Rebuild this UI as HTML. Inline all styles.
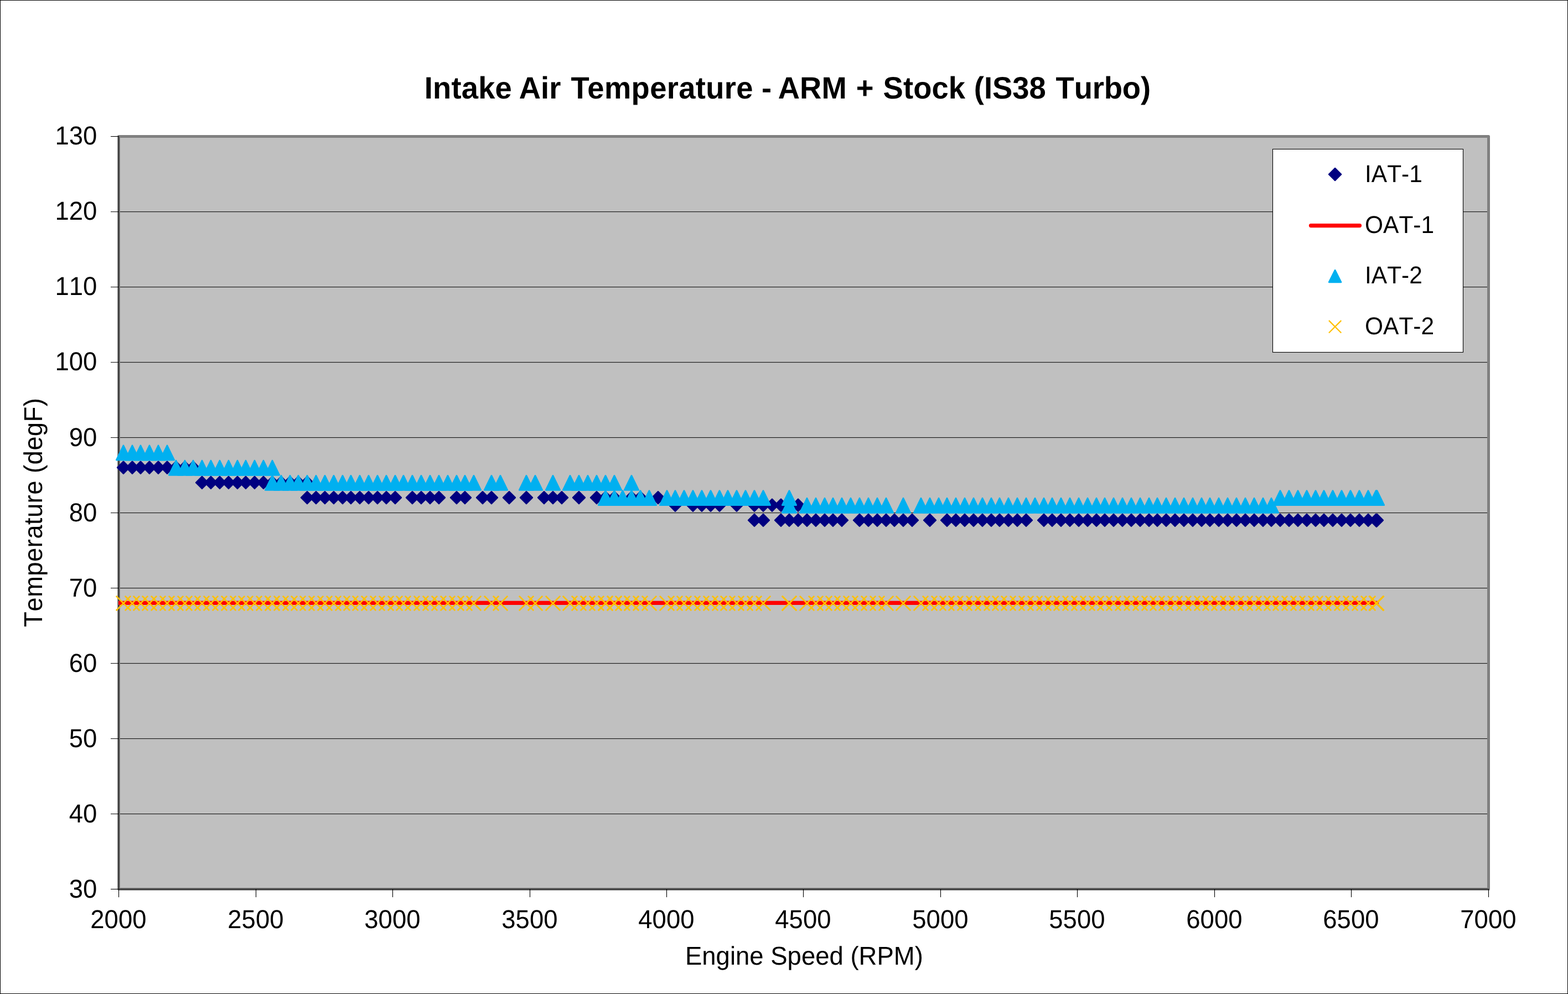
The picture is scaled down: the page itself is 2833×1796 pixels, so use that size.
<!DOCTYPE html>
<html lang="en"><head><meta charset="utf-8">
<title>Intake Air Temperature - ARM + Stock (IS38 Turbo)</title>
<style>
html,body{margin:0;padding:0;background:#fff;}
body{width:2833px;height:1796px;}
svg{display:block;}
text{font-family:"Liberation Sans",sans-serif;fill:#000;font-kerning:none;text-rendering:geometricPrecision;}
.t{font-weight:bold;font-size:54.4px;}
.a{font-size:45.5px;}
.l{font-size:42.5px;}
.d{fill:#000080;stroke:#000080;stroke-width:2.2;stroke-linejoin:round;}
.g{fill:#00b0f0;stroke:#00b0f0;stroke-width:2.8;stroke-linejoin:round;}
.x{stroke:#ffc000;stroke-width:2.625;stroke-linecap:square;fill:none;}
</style></head><body>
<svg width="2833" height="1796" viewBox="0 0 2833 1796" role="img" aria-label="Intake Air Temperature chart">
<rect x="0" y="0" width="2833" height="1796" fill="#fff"/>
<rect x="0.5" y="0.5" width="2832" height="1795" fill="none" stroke="#000" stroke-width="1"/>
<rect x="214.5" y="246.5" width="2475" height="1360" fill="#c0c0c0"/>
<g fill="#000">
<rect x="217" y="382.15" width="2470" height="1"/>
<rect x="217" y="518.15" width="2470" height="1"/>
<rect x="217" y="654.15" width="2470" height="1"/>
<rect x="217" y="790.15" width="2470" height="1"/>
<rect x="217" y="926.15" width="2470" height="1"/>
<rect x="217" y="1062.15" width="2470" height="1"/>
<rect x="217" y="1198.15" width="2470" height="1"/>
<rect x="217" y="1334.15" width="2470" height="1"/>
<rect x="217" y="1470.15" width="2470" height="1"/>
</g>
<rect x="214.5" y="246.45" width="2475" height="1359.95" fill="none" stroke="#808080" stroke-width="5" stroke-linejoin="round"/>
<g fill="#000">
<rect x="214" y="246" width="1.1" height="1375.2"/>
<rect x="200" y="1606" width="2490" height="1.1"/>
<rect x="200" y="246" width="14.5" height="1.1"/>
<rect x="200" y="382.15" width="14.5" height="1"/>
<rect x="200" y="518.15" width="14.5" height="1"/>
<rect x="200" y="654.15" width="14.5" height="1"/>
<rect x="200" y="790.15" width="14.5" height="1"/>
<rect x="200" y="926.15" width="14.5" height="1"/>
<rect x="200" y="1062.15" width="14.5" height="1"/>
<rect x="200" y="1198.15" width="14.5" height="1"/>
<rect x="200" y="1334.15" width="14.5" height="1"/>
<rect x="200" y="1470.15" width="14.5" height="1"/>
<rect x="461.95" y="1606" width="1.1" height="15.1"/>
<rect x="708.95" y="1606" width="1.1" height="15.1"/>
<rect x="956.95" y="1606" width="1.1" height="15.1"/>
<rect x="1203.95" y="1606" width="1.1" height="15.1"/>
<rect x="1450.95" y="1606" width="1.1" height="15.1"/>
<rect x="1698.95" y="1606" width="1.1" height="15.1"/>
<rect x="1945.95" y="1606" width="1.1" height="15.1"/>
<rect x="2193.95" y="1606" width="1.1" height="15.1"/>
<rect x="2440.95" y="1606" width="1.1" height="15.1"/>
<rect x="2688.95" y="1606" width="1.1" height="15.1"/>
</g>
<g class="d">
<path d="M223 833.65l11.1 11.1l-11.1 11.1l-11.1 -11.1z"/>
<path d="M239 833.65l11.1 11.1l-11.1 11.1l-11.1 -11.1z"/>
<path d="M254 833.65l11.1 11.1l-11.1 11.1l-11.1 -11.1z"/>
<path d="M270 833.65l11.1 11.1l-11.1 11.1l-11.1 -11.1z"/>
<path d="M286 833.65l11.1 11.1l-11.1 11.1l-11.1 -11.1z"/>
<path d="M302 833.65l11.1 11.1l-11.1 11.1l-11.1 -11.1z"/>
<path d="M318 833.65l11.1 11.1l-11.1 11.1l-11.1 -11.1z"/>
<path d="M334 833.65l11.1 11.1l-11.1 11.1l-11.1 -11.1z"/>
<path d="M349 833.65l11.1 11.1l-11.1 11.1l-11.1 -11.1z"/>
<path d="M365 860.85l11.1 11.1l-11.1 11.1l-11.1 -11.1z"/>
<path d="M381 860.85l11.1 11.1l-11.1 11.1l-11.1 -11.1z"/>
<path d="M397 860.85l11.1 11.1l-11.1 11.1l-11.1 -11.1z"/>
<path d="M413 860.85l11.1 11.1l-11.1 11.1l-11.1 -11.1z"/>
<path d="M429 860.85l11.1 11.1l-11.1 11.1l-11.1 -11.1z"/>
<path d="M444 860.85l11.1 11.1l-11.1 11.1l-11.1 -11.1z"/>
<path d="M460 860.85l11.1 11.1l-11.1 11.1l-11.1 -11.1z"/>
<path d="M476 860.85l11.1 11.1l-11.1 11.1l-11.1 -11.1z"/>
<path d="M492 860.85l11.1 11.1l-11.1 11.1l-11.1 -11.1z"/>
<path d="M508 860.85l11.1 11.1l-11.1 11.1l-11.1 -11.1z"/>
<path d="M524 860.85l11.1 11.1l-11.1 11.1l-11.1 -11.1z"/>
<path d="M539 860.85l11.1 11.1l-11.1 11.1l-11.1 -11.1z"/>
<path d="M555 860.85l11.1 11.1l-11.1 11.1l-11.1 -11.1z"/>
<path d="M555 888.05l11.1 11.1l-11.1 11.1l-11.1 -11.1z"/>
<path d="M571 888.05l11.1 11.1l-11.1 11.1l-11.1 -11.1z"/>
<path d="M587 888.05l11.1 11.1l-11.1 11.1l-11.1 -11.1z"/>
<path d="M603 888.05l11.1 11.1l-11.1 11.1l-11.1 -11.1z"/>
<path d="M619 888.05l11.1 11.1l-11.1 11.1l-11.1 -11.1z"/>
<path d="M634 888.05l11.1 11.1l-11.1 11.1l-11.1 -11.1z"/>
<path d="M650 888.05l11.1 11.1l-11.1 11.1l-11.1 -11.1z"/>
<path d="M666 888.05l11.1 11.1l-11.1 11.1l-11.1 -11.1z"/>
<path d="M682 888.05l11.1 11.1l-11.1 11.1l-11.1 -11.1z"/>
<path d="M698 888.05l11.1 11.1l-11.1 11.1l-11.1 -11.1z"/>
<path d="M714 888.05l11.1 11.1l-11.1 11.1l-11.1 -11.1z"/>
<path d="M745 888.05l11.1 11.1l-11.1 11.1l-11.1 -11.1z"/>
<path d="M761 888.05l11.1 11.1l-11.1 11.1l-11.1 -11.1z"/>
<path d="M777 888.05l11.1 11.1l-11.1 11.1l-11.1 -11.1z"/>
<path d="M793 888.05l11.1 11.1l-11.1 11.1l-11.1 -11.1z"/>
<path d="M825 888.05l11.1 11.1l-11.1 11.1l-11.1 -11.1z"/>
<path d="M840 888.05l11.1 11.1l-11.1 11.1l-11.1 -11.1z"/>
<path d="M872 888.05l11.1 11.1l-11.1 11.1l-11.1 -11.1z"/>
<path d="M888 888.05l11.1 11.1l-11.1 11.1l-11.1 -11.1z"/>
<path d="M920 888.05l11.1 11.1l-11.1 11.1l-11.1 -11.1z"/>
<path d="M951 888.05l11.1 11.1l-11.1 11.1l-11.1 -11.1z"/>
<path d="M983 888.05l11.1 11.1l-11.1 11.1l-11.1 -11.1z"/>
<path d="M999 888.05l11.1 11.1l-11.1 11.1l-11.1 -11.1z"/>
<path d="M1015 888.05l11.1 11.1l-11.1 11.1l-11.1 -11.1z"/>
<path d="M1046 888.05l11.1 11.1l-11.1 11.1l-11.1 -11.1z"/>
<path d="M1078 888.05l11.1 11.1l-11.1 11.1l-11.1 -11.1z"/>
<path d="M1094 888.05l11.1 11.1l-11.1 11.1l-11.1 -11.1z"/>
<path d="M1110 888.05l11.1 11.1l-11.1 11.1l-11.1 -11.1z"/>
<path d="M1141 888.05l11.1 11.1l-11.1 11.1l-11.1 -11.1z"/>
<path d="M1157 888.05l11.1 11.1l-11.1 11.1l-11.1 -11.1z"/>
<path d="M1189 888.05l11.1 11.1l-11.1 11.1l-11.1 -11.1z"/>
<path d="M1220 901.65l11.1 11.1l-11.1 11.1l-11.1 -11.1z"/>
<path d="M1252 901.65l11.1 11.1l-11.1 11.1l-11.1 -11.1z"/>
<path d="M1268 901.65l11.1 11.1l-11.1 11.1l-11.1 -11.1z"/>
<path d="M1284 901.65l11.1 11.1l-11.1 11.1l-11.1 -11.1z"/>
<path d="M1300 901.65l11.1 11.1l-11.1 11.1l-11.1 -11.1z"/>
<path d="M1331 901.65l11.1 11.1l-11.1 11.1l-11.1 -11.1z"/>
<path d="M1363 901.65l11.1 11.1l-11.1 11.1l-11.1 -11.1z"/>
<path d="M1379 901.65l11.1 11.1l-11.1 11.1l-11.1 -11.1z"/>
<path d="M1395 901.65l11.1 11.1l-11.1 11.1l-11.1 -11.1z"/>
<path d="M1411 901.65l11.1 11.1l-11.1 11.1l-11.1 -11.1z"/>
<path d="M1442 901.65l11.1 11.1l-11.1 11.1l-11.1 -11.1z"/>
<path d="M1363 928.85l11.1 11.1l-11.1 11.1l-11.1 -11.1z"/>
<path d="M1379 928.85l11.1 11.1l-11.1 11.1l-11.1 -11.1z"/>
<path d="M1411 928.85l11.1 11.1l-11.1 11.1l-11.1 -11.1z"/>
<path d="M1426 928.85l11.1 11.1l-11.1 11.1l-11.1 -11.1z"/>
<path d="M1442 928.85l11.1 11.1l-11.1 11.1l-11.1 -11.1z"/>
<path d="M1458 928.85l11.1 11.1l-11.1 11.1l-11.1 -11.1z"/>
<path d="M1474 928.85l11.1 11.1l-11.1 11.1l-11.1 -11.1z"/>
<path d="M1490 928.85l11.1 11.1l-11.1 11.1l-11.1 -11.1z"/>
<path d="M1505 928.85l11.1 11.1l-11.1 11.1l-11.1 -11.1z"/>
<path d="M1521 928.85l11.1 11.1l-11.1 11.1l-11.1 -11.1z"/>
<path d="M1553 928.85l11.1 11.1l-11.1 11.1l-11.1 -11.1z"/>
<path d="M1569 928.85l11.1 11.1l-11.1 11.1l-11.1 -11.1z"/>
<path d="M1585 928.85l11.1 11.1l-11.1 11.1l-11.1 -11.1z"/>
<path d="M1601 928.85l11.1 11.1l-11.1 11.1l-11.1 -11.1z"/>
<path d="M1616 928.85l11.1 11.1l-11.1 11.1l-11.1 -11.1z"/>
<path d="M1632 928.85l11.1 11.1l-11.1 11.1l-11.1 -11.1z"/>
<path d="M1648 928.85l11.1 11.1l-11.1 11.1l-11.1 -11.1z"/>
<path d="M1680 928.85l11.1 11.1l-11.1 11.1l-11.1 -11.1z"/>
<path d="M1711 928.85l11.1 11.1l-11.1 11.1l-11.1 -11.1z"/>
<path d="M1727 928.85l11.1 11.1l-11.1 11.1l-11.1 -11.1z"/>
<path d="M1743 928.85l11.1 11.1l-11.1 11.1l-11.1 -11.1z"/>
<path d="M1759 928.85l11.1 11.1l-11.1 11.1l-11.1 -11.1z"/>
<path d="M1775 928.85l11.1 11.1l-11.1 11.1l-11.1 -11.1z"/>
<path d="M1791 928.85l11.1 11.1l-11.1 11.1l-11.1 -11.1z"/>
<path d="M1806 928.85l11.1 11.1l-11.1 11.1l-11.1 -11.1z"/>
<path d="M1822 928.85l11.1 11.1l-11.1 11.1l-11.1 -11.1z"/>
<path d="M1838 928.85l11.1 11.1l-11.1 11.1l-11.1 -11.1z"/>
<path d="M1854 928.85l11.1 11.1l-11.1 11.1l-11.1 -11.1z"/>
<path d="M1886 928.85l11.1 11.1l-11.1 11.1l-11.1 -11.1z"/>
<path d="M1901 928.85l11.1 11.1l-11.1 11.1l-11.1 -11.1z"/>
<path d="M1917 928.85l11.1 11.1l-11.1 11.1l-11.1 -11.1z"/>
<path d="M1933 928.85l11.1 11.1l-11.1 11.1l-11.1 -11.1z"/>
<path d="M1949 928.85l11.1 11.1l-11.1 11.1l-11.1 -11.1z"/>
<path d="M1965 928.85l11.1 11.1l-11.1 11.1l-11.1 -11.1z"/>
<path d="M1981 928.85l11.1 11.1l-11.1 11.1l-11.1 -11.1z"/>
<path d="M1996 928.85l11.1 11.1l-11.1 11.1l-11.1 -11.1z"/>
<path d="M2012 928.85l11.1 11.1l-11.1 11.1l-11.1 -11.1z"/>
<path d="M2028 928.85l11.1 11.1l-11.1 11.1l-11.1 -11.1z"/>
<path d="M2044 928.85l11.1 11.1l-11.1 11.1l-11.1 -11.1z"/>
<path d="M2060 928.85l11.1 11.1l-11.1 11.1l-11.1 -11.1z"/>
<path d="M2076 928.85l11.1 11.1l-11.1 11.1l-11.1 -11.1z"/>
<path d="M2091 928.85l11.1 11.1l-11.1 11.1l-11.1 -11.1z"/>
<path d="M2107 928.85l11.1 11.1l-11.1 11.1l-11.1 -11.1z"/>
<path d="M2123 928.85l11.1 11.1l-11.1 11.1l-11.1 -11.1z"/>
<path d="M2139 928.85l11.1 11.1l-11.1 11.1l-11.1 -11.1z"/>
<path d="M2155 928.85l11.1 11.1l-11.1 11.1l-11.1 -11.1z"/>
<path d="M2171 928.85l11.1 11.1l-11.1 11.1l-11.1 -11.1z"/>
<path d="M2186 928.85l11.1 11.1l-11.1 11.1l-11.1 -11.1z"/>
<path d="M2202 928.85l11.1 11.1l-11.1 11.1l-11.1 -11.1z"/>
<path d="M2218 928.85l11.1 11.1l-11.1 11.1l-11.1 -11.1z"/>
<path d="M2234 928.85l11.1 11.1l-11.1 11.1l-11.1 -11.1z"/>
<path d="M2250 928.85l11.1 11.1l-11.1 11.1l-11.1 -11.1z"/>
<path d="M2266 928.85l11.1 11.1l-11.1 11.1l-11.1 -11.1z"/>
<path d="M2282 928.85l11.1 11.1l-11.1 11.1l-11.1 -11.1z"/>
<path d="M2297 928.85l11.1 11.1l-11.1 11.1l-11.1 -11.1z"/>
<path d="M2313 928.85l11.1 11.1l-11.1 11.1l-11.1 -11.1z"/>
<path d="M2329 928.85l11.1 11.1l-11.1 11.1l-11.1 -11.1z"/>
<path d="M2345 928.85l11.1 11.1l-11.1 11.1l-11.1 -11.1z"/>
<path d="M2361 928.85l11.1 11.1l-11.1 11.1l-11.1 -11.1z"/>
<path d="M2377 928.85l11.1 11.1l-11.1 11.1l-11.1 -11.1z"/>
<path d="M2392 928.85l11.1 11.1l-11.1 11.1l-11.1 -11.1z"/>
<path d="M2408 928.85l11.1 11.1l-11.1 11.1l-11.1 -11.1z"/>
<path d="M2424 928.85l11.1 11.1l-11.1 11.1l-11.1 -11.1z"/>
<path d="M2440 928.85l11.1 11.1l-11.1 11.1l-11.1 -11.1z"/>
<path d="M2456 928.85l11.1 11.1l-11.1 11.1l-11.1 -11.1z"/>
<path d="M2472 928.85l11.1 11.1l-11.1 11.1l-11.1 -11.1z"/>
<path d="M2487 928.85l11.1 11.1l-11.1 11.1l-11.1 -11.1z"/>
<path d="M2488 928.85l11.1 11.1l-11.1 11.1l-11.1 -11.1z"/>
<path d="M2486 928.85l11.1 11.1l-11.1 11.1l-11.1 -11.1z"/>
<path d="M2487 929.86l11.1 11.1l-11.1 11.1l-11.1 -11.1z"/>
</g>
<path d="M214 1085.85H2487.45a3.55 3.55 0 0 1 0 7.1H214z" fill="#ff0000"/>
<g class="g">
<path d="M223 805.05l12.65 26h-25.3z"/>
<path d="M239 805.05l12.65 26h-25.3z"/>
<path d="M254 805.05l12.65 26h-25.3z"/>
<path d="M270 805.05l12.65 26h-25.3z"/>
<path d="M286 805.05l12.65 26h-25.3z"/>
<path d="M302 805.05l12.65 26h-25.3z"/>
<path d="M318 832.25l12.65 26h-25.3z"/>
<path d="M334 832.25l12.65 26h-25.3z"/>
<path d="M349 832.25l12.65 26h-25.3z"/>
<path d="M365 832.25l12.65 26h-25.3z"/>
<path d="M381 832.25l12.65 26h-25.3z"/>
<path d="M397 832.25l12.65 26h-25.3z"/>
<path d="M413 832.25l12.65 26h-25.3z"/>
<path d="M429 832.25l12.65 26h-25.3z"/>
<path d="M444 832.25l12.65 26h-25.3z"/>
<path d="M460 832.25l12.65 26h-25.3z"/>
<path d="M476 832.25l12.65 26h-25.3z"/>
<path d="M492 832.25l12.65 26h-25.3z"/>
<path d="M492 859.45l12.65 26h-25.3z"/>
<path d="M508 859.45l12.65 26h-25.3z"/>
<path d="M524 859.45l12.65 26h-25.3z"/>
<path d="M539 859.45l12.65 26h-25.3z"/>
<path d="M555 859.45l12.65 26h-25.3z"/>
<path d="M571 859.45l12.65 26h-25.3z"/>
<path d="M587 859.45l12.65 26h-25.3z"/>
<path d="M603 859.45l12.65 26h-25.3z"/>
<path d="M619 859.45l12.65 26h-25.3z"/>
<path d="M634 859.45l12.65 26h-25.3z"/>
<path d="M650 859.45l12.65 26h-25.3z"/>
<path d="M666 859.45l12.65 26h-25.3z"/>
<path d="M682 859.45l12.65 26h-25.3z"/>
<path d="M698 859.45l12.65 26h-25.3z"/>
<path d="M714 859.45l12.65 26h-25.3z"/>
<path d="M729 859.45l12.65 26h-25.3z"/>
<path d="M745 859.45l12.65 26h-25.3z"/>
<path d="M761 859.45l12.65 26h-25.3z"/>
<path d="M777 859.45l12.65 26h-25.3z"/>
<path d="M793 859.45l12.65 26h-25.3z"/>
<path d="M809 859.45l12.65 26h-25.3z"/>
<path d="M825 859.45l12.65 26h-25.3z"/>
<path d="M840 859.45l12.65 26h-25.3z"/>
<path d="M856 859.45l12.65 26h-25.3z"/>
<path d="M888 859.45l12.65 26h-25.3z"/>
<path d="M904 859.45l12.65 26h-25.3z"/>
<path d="M951 859.45l12.65 26h-25.3z"/>
<path d="M967 859.45l12.65 26h-25.3z"/>
<path d="M999 859.45l12.65 26h-25.3z"/>
<path d="M1030 859.45l12.65 26h-25.3z"/>
<path d="M1046 859.45l12.65 26h-25.3z"/>
<path d="M1062 859.45l12.65 26h-25.3z"/>
<path d="M1078 859.45l12.65 26h-25.3z"/>
<path d="M1094 859.45l12.65 26h-25.3z"/>
<path d="M1110 859.45l12.65 26h-25.3z"/>
<path d="M1141 859.45l12.65 26h-25.3z"/>
<path d="M1094 886.65l12.65 26h-25.3z"/>
<path d="M1110 886.65l12.65 26h-25.3z"/>
<path d="M1125 886.65l12.65 26h-25.3z"/>
<path d="M1141 886.65l12.65 26h-25.3z"/>
<path d="M1157 886.65l12.65 26h-25.3z"/>
<path d="M1173 886.65l12.65 26h-25.3z"/>
<path d="M1205 886.65l12.65 26h-25.3z"/>
<path d="M1220 886.65l12.65 26h-25.3z"/>
<path d="M1236 886.65l12.65 26h-25.3z"/>
<path d="M1252 886.65l12.65 26h-25.3z"/>
<path d="M1268 886.65l12.65 26h-25.3z"/>
<path d="M1284 886.65l12.65 26h-25.3z"/>
<path d="M1300 886.65l12.65 26h-25.3z"/>
<path d="M1315 886.65l12.65 26h-25.3z"/>
<path d="M1331 886.65l12.65 26h-25.3z"/>
<path d="M1347 886.65l12.65 26h-25.3z"/>
<path d="M1363 886.65l12.65 26h-25.3z"/>
<path d="M1379 886.65l12.65 26h-25.3z"/>
<path d="M1426 886.65l12.65 26h-25.3z"/>
<path d="M1426 900.25l12.65 26h-25.3z"/>
<path d="M1458 900.25l12.65 26h-25.3z"/>
<path d="M1474 900.25l12.65 26h-25.3z"/>
<path d="M1490 900.25l12.65 26h-25.3z"/>
<path d="M1505 900.25l12.65 26h-25.3z"/>
<path d="M1521 900.25l12.65 26h-25.3z"/>
<path d="M1537 900.25l12.65 26h-25.3z"/>
<path d="M1553 900.25l12.65 26h-25.3z"/>
<path d="M1569 900.25l12.65 26h-25.3z"/>
<path d="M1585 900.25l12.65 26h-25.3z"/>
<path d="M1601 900.25l12.65 26h-25.3z"/>
<path d="M1632 900.25l12.65 26h-25.3z"/>
<path d="M1664 900.25l12.65 26h-25.3z"/>
<path d="M1680 900.25l12.65 26h-25.3z"/>
<path d="M1696 900.25l12.65 26h-25.3z"/>
<path d="M1711 900.25l12.65 26h-25.3z"/>
<path d="M1727 900.25l12.65 26h-25.3z"/>
<path d="M1743 900.25l12.65 26h-25.3z"/>
<path d="M1759 900.25l12.65 26h-25.3z"/>
<path d="M1775 900.25l12.65 26h-25.3z"/>
<path d="M1791 900.25l12.65 26h-25.3z"/>
<path d="M1806 900.25l12.65 26h-25.3z"/>
<path d="M1822 900.25l12.65 26h-25.3z"/>
<path d="M1838 900.25l12.65 26h-25.3z"/>
<path d="M1854 900.25l12.65 26h-25.3z"/>
<path d="M1870 900.25l12.65 26h-25.3z"/>
<path d="M1886 900.25l12.65 26h-25.3z"/>
<path d="M1901 900.25l12.65 26h-25.3z"/>
<path d="M1917 900.25l12.65 26h-25.3z"/>
<path d="M1933 900.25l12.65 26h-25.3z"/>
<path d="M1949 900.25l12.65 26h-25.3z"/>
<path d="M1965 900.25l12.65 26h-25.3z"/>
<path d="M1981 900.25l12.65 26h-25.3z"/>
<path d="M1996 900.25l12.65 26h-25.3z"/>
<path d="M2012 900.25l12.65 26h-25.3z"/>
<path d="M2028 900.25l12.65 26h-25.3z"/>
<path d="M2044 900.25l12.65 26h-25.3z"/>
<path d="M2060 900.25l12.65 26h-25.3z"/>
<path d="M2076 900.25l12.65 26h-25.3z"/>
<path d="M2091 900.25l12.65 26h-25.3z"/>
<path d="M2107 900.25l12.65 26h-25.3z"/>
<path d="M2123 900.25l12.65 26h-25.3z"/>
<path d="M2139 900.25l12.65 26h-25.3z"/>
<path d="M2155 900.25l12.65 26h-25.3z"/>
<path d="M2171 900.25l12.65 26h-25.3z"/>
<path d="M2186 900.25l12.65 26h-25.3z"/>
<path d="M2202 900.25l12.65 26h-25.3z"/>
<path d="M2218 900.25l12.65 26h-25.3z"/>
<path d="M2234 900.25l12.65 26h-25.3z"/>
<path d="M2250 900.25l12.65 26h-25.3z"/>
<path d="M2266 900.25l12.65 26h-25.3z"/>
<path d="M2282 900.25l12.65 26h-25.3z"/>
<path d="M2297 900.25l12.65 26h-25.3z"/>
<path d="M2313 886.65l12.65 26h-25.3z"/>
<path d="M2329 886.65l12.65 26h-25.3z"/>
<path d="M2345 886.65l12.65 26h-25.3z"/>
<path d="M2361 886.65l12.65 26h-25.3z"/>
<path d="M2377 886.65l12.65 26h-25.3z"/>
<path d="M2392 886.65l12.65 26h-25.3z"/>
<path d="M2408 886.65l12.65 26h-25.3z"/>
<path d="M2424 886.65l12.65 26h-25.3z"/>
<path d="M2440 886.65l12.65 26h-25.3z"/>
<path d="M2456 886.65l12.65 26h-25.3z"/>
<path d="M2472 886.65l12.65 26h-25.3z"/>
<path d="M2487 886.65l12.65 26h-25.3z"/>
<path d="M2488 886.65l12.65 26h-25.3z"/>
<path d="M2486 886.65l12.65 26h-25.3z"/>
</g>
<g class="x">
<path d="M210.75 1077.8l24.5 24.5M210.75 1102.3l24.5 -24.5"/>
<path d="M226.75 1077.8l24.5 24.5M226.75 1102.3l24.5 -24.5"/>
<path d="M241.75 1077.8l24.5 24.5M241.75 1102.3l24.5 -24.5"/>
<path d="M257.75 1077.8l24.5 24.5M257.75 1102.3l24.5 -24.5"/>
<path d="M273.75 1077.8l24.5 24.5M273.75 1102.3l24.5 -24.5"/>
<path d="M289.75 1077.8l24.5 24.5M289.75 1102.3l24.5 -24.5"/>
<path d="M305.75 1077.8l24.5 24.5M305.75 1102.3l24.5 -24.5"/>
<path d="M321.75 1077.8l24.5 24.5M321.75 1102.3l24.5 -24.5"/>
<path d="M336.75 1077.8l24.5 24.5M336.75 1102.3l24.5 -24.5"/>
<path d="M352.75 1077.8l24.5 24.5M352.75 1102.3l24.5 -24.5"/>
<path d="M368.75 1077.8l24.5 24.5M368.75 1102.3l24.5 -24.5"/>
<path d="M384.75 1077.8l24.5 24.5M384.75 1102.3l24.5 -24.5"/>
<path d="M400.75 1077.8l24.5 24.5M400.75 1102.3l24.5 -24.5"/>
<path d="M416.75 1077.8l24.5 24.5M416.75 1102.3l24.5 -24.5"/>
<path d="M431.75 1077.8l24.5 24.5M431.75 1102.3l24.5 -24.5"/>
<path d="M447.75 1077.8l24.5 24.5M447.75 1102.3l24.5 -24.5"/>
<path d="M463.75 1077.8l24.5 24.5M463.75 1102.3l24.5 -24.5"/>
<path d="M479.75 1077.8l24.5 24.5M479.75 1102.3l24.5 -24.5"/>
<path d="M479.75 1077.8l24.5 24.5M479.75 1102.3l24.5 -24.5"/>
<path d="M495.75 1077.8l24.5 24.5M495.75 1102.3l24.5 -24.5"/>
<path d="M511.75 1077.8l24.5 24.5M511.75 1102.3l24.5 -24.5"/>
<path d="M526.75 1077.8l24.5 24.5M526.75 1102.3l24.5 -24.5"/>
<path d="M542.75 1077.8l24.5 24.5M542.75 1102.3l24.5 -24.5"/>
<path d="M558.75 1077.8l24.5 24.5M558.75 1102.3l24.5 -24.5"/>
<path d="M574.75 1077.8l24.5 24.5M574.75 1102.3l24.5 -24.5"/>
<path d="M590.75 1077.8l24.5 24.5M590.75 1102.3l24.5 -24.5"/>
<path d="M606.75 1077.8l24.5 24.5M606.75 1102.3l24.5 -24.5"/>
<path d="M621.75 1077.8l24.5 24.5M621.75 1102.3l24.5 -24.5"/>
<path d="M637.75 1077.8l24.5 24.5M637.75 1102.3l24.5 -24.5"/>
<path d="M653.75 1077.8l24.5 24.5M653.75 1102.3l24.5 -24.5"/>
<path d="M669.75 1077.8l24.5 24.5M669.75 1102.3l24.5 -24.5"/>
<path d="M685.75 1077.8l24.5 24.5M685.75 1102.3l24.5 -24.5"/>
<path d="M701.75 1077.8l24.5 24.5M701.75 1102.3l24.5 -24.5"/>
<path d="M716.75 1077.8l24.5 24.5M716.75 1102.3l24.5 -24.5"/>
<path d="M732.75 1077.8l24.5 24.5M732.75 1102.3l24.5 -24.5"/>
<path d="M748.75 1077.8l24.5 24.5M748.75 1102.3l24.5 -24.5"/>
<path d="M764.75 1077.8l24.5 24.5M764.75 1102.3l24.5 -24.5"/>
<path d="M780.75 1077.8l24.5 24.5M780.75 1102.3l24.5 -24.5"/>
<path d="M796.75 1077.8l24.5 24.5M796.75 1102.3l24.5 -24.5"/>
<path d="M812.75 1077.8l24.5 24.5M812.75 1102.3l24.5 -24.5"/>
<path d="M827.75 1077.8l24.5 24.5M827.75 1102.3l24.5 -24.5"/>
<path d="M843.75 1077.8l24.5 24.5M843.75 1102.3l24.5 -24.5"/>
<path d="M875.75 1077.8l24.5 24.5M875.75 1102.3l24.5 -24.5"/>
<path d="M891.75 1077.8l24.5 24.5M891.75 1102.3l24.5 -24.5"/>
<path d="M938.75 1077.8l24.5 24.5M938.75 1102.3l24.5 -24.5"/>
<path d="M954.75 1077.8l24.5 24.5M954.75 1102.3l24.5 -24.5"/>
<path d="M986.75 1077.8l24.5 24.5M986.75 1102.3l24.5 -24.5"/>
<path d="M1017.75 1077.8l24.5 24.5M1017.75 1102.3l24.5 -24.5"/>
<path d="M1033.75 1077.8l24.5 24.5M1033.75 1102.3l24.5 -24.5"/>
<path d="M1049.75 1077.8l24.5 24.5M1049.75 1102.3l24.5 -24.5"/>
<path d="M1065.75 1077.8l24.5 24.5M1065.75 1102.3l24.5 -24.5"/>
<path d="M1081.75 1077.8l24.5 24.5M1081.75 1102.3l24.5 -24.5"/>
<path d="M1097.75 1077.8l24.5 24.5M1097.75 1102.3l24.5 -24.5"/>
<path d="M1128.75 1077.8l24.5 24.5M1128.75 1102.3l24.5 -24.5"/>
<path d="M1081.75 1077.8l24.5 24.5M1081.75 1102.3l24.5 -24.5"/>
<path d="M1097.75 1077.8l24.5 24.5M1097.75 1102.3l24.5 -24.5"/>
<path d="M1112.75 1077.8l24.5 24.5M1112.75 1102.3l24.5 -24.5"/>
<path d="M1128.75 1077.8l24.5 24.5M1128.75 1102.3l24.5 -24.5"/>
<path d="M1144.75 1077.8l24.5 24.5M1144.75 1102.3l24.5 -24.5"/>
<path d="M1160.75 1077.8l24.5 24.5M1160.75 1102.3l24.5 -24.5"/>
<path d="M1192.75 1077.8l24.5 24.5M1192.75 1102.3l24.5 -24.5"/>
<path d="M1207.75 1077.8l24.5 24.5M1207.75 1102.3l24.5 -24.5"/>
<path d="M1223.75 1077.8l24.5 24.5M1223.75 1102.3l24.5 -24.5"/>
<path d="M1239.75 1077.8l24.5 24.5M1239.75 1102.3l24.5 -24.5"/>
<path d="M1255.75 1077.8l24.5 24.5M1255.75 1102.3l24.5 -24.5"/>
<path d="M1271.75 1077.8l24.5 24.5M1271.75 1102.3l24.5 -24.5"/>
<path d="M1287.75 1077.8l24.5 24.5M1287.75 1102.3l24.5 -24.5"/>
<path d="M1302.75 1077.8l24.5 24.5M1302.75 1102.3l24.5 -24.5"/>
<path d="M1318.75 1077.8l24.5 24.5M1318.75 1102.3l24.5 -24.5"/>
<path d="M1334.75 1077.8l24.5 24.5M1334.75 1102.3l24.5 -24.5"/>
<path d="M1350.75 1077.8l24.5 24.5M1350.75 1102.3l24.5 -24.5"/>
<path d="M1366.75 1077.8l24.5 24.5M1366.75 1102.3l24.5 -24.5"/>
<path d="M1413.75 1077.8l24.5 24.5M1413.75 1102.3l24.5 -24.5"/>
<path d="M1413.75 1077.8l24.5 24.5M1413.75 1102.3l24.5 -24.5"/>
<path d="M1445.75 1077.8l24.5 24.5M1445.75 1102.3l24.5 -24.5"/>
<path d="M1461.75 1077.8l24.5 24.5M1461.75 1102.3l24.5 -24.5"/>
<path d="M1477.75 1077.8l24.5 24.5M1477.75 1102.3l24.5 -24.5"/>
<path d="M1492.75 1077.8l24.5 24.5M1492.75 1102.3l24.5 -24.5"/>
<path d="M1508.75 1077.8l24.5 24.5M1508.75 1102.3l24.5 -24.5"/>
<path d="M1524.75 1077.8l24.5 24.5M1524.75 1102.3l24.5 -24.5"/>
<path d="M1540.75 1077.8l24.5 24.5M1540.75 1102.3l24.5 -24.5"/>
<path d="M1556.75 1077.8l24.5 24.5M1556.75 1102.3l24.5 -24.5"/>
<path d="M1572.75 1077.8l24.5 24.5M1572.75 1102.3l24.5 -24.5"/>
<path d="M1588.75 1077.8l24.5 24.5M1588.75 1102.3l24.5 -24.5"/>
<path d="M1619.75 1077.8l24.5 24.5M1619.75 1102.3l24.5 -24.5"/>
<path d="M1651.75 1077.8l24.5 24.5M1651.75 1102.3l24.5 -24.5"/>
<path d="M1667.75 1077.8l24.5 24.5M1667.75 1102.3l24.5 -24.5"/>
<path d="M1683.75 1077.8l24.5 24.5M1683.75 1102.3l24.5 -24.5"/>
<path d="M1698.75 1077.8l24.5 24.5M1698.75 1102.3l24.5 -24.5"/>
<path d="M1714.75 1077.8l24.5 24.5M1714.75 1102.3l24.5 -24.5"/>
<path d="M1730.75 1077.8l24.5 24.5M1730.75 1102.3l24.5 -24.5"/>
<path d="M1746.75 1077.8l24.5 24.5M1746.75 1102.3l24.5 -24.5"/>
<path d="M1762.75 1077.8l24.5 24.5M1762.75 1102.3l24.5 -24.5"/>
<path d="M1778.75 1077.8l24.5 24.5M1778.75 1102.3l24.5 -24.5"/>
<path d="M1793.75 1077.8l24.5 24.5M1793.75 1102.3l24.5 -24.5"/>
<path d="M1809.75 1077.8l24.5 24.5M1809.75 1102.3l24.5 -24.5"/>
<path d="M1825.75 1077.8l24.5 24.5M1825.75 1102.3l24.5 -24.5"/>
<path d="M1841.75 1077.8l24.5 24.5M1841.75 1102.3l24.5 -24.5"/>
<path d="M1857.75 1077.8l24.5 24.5M1857.75 1102.3l24.5 -24.5"/>
<path d="M1873.75 1077.8l24.5 24.5M1873.75 1102.3l24.5 -24.5"/>
<path d="M1888.75 1077.8l24.5 24.5M1888.75 1102.3l24.5 -24.5"/>
<path d="M1904.75 1077.8l24.5 24.5M1904.75 1102.3l24.5 -24.5"/>
<path d="M1920.75 1077.8l24.5 24.5M1920.75 1102.3l24.5 -24.5"/>
<path d="M1936.75 1077.8l24.5 24.5M1936.75 1102.3l24.5 -24.5"/>
<path d="M1952.75 1077.8l24.5 24.5M1952.75 1102.3l24.5 -24.5"/>
<path d="M1968.75 1077.8l24.5 24.5M1968.75 1102.3l24.5 -24.5"/>
<path d="M1983.75 1077.8l24.5 24.5M1983.75 1102.3l24.5 -24.5"/>
<path d="M1999.75 1077.8l24.5 24.5M1999.75 1102.3l24.5 -24.5"/>
<path d="M2015.75 1077.8l24.5 24.5M2015.75 1102.3l24.5 -24.5"/>
<path d="M2031.75 1077.8l24.5 24.5M2031.75 1102.3l24.5 -24.5"/>
<path d="M2047.75 1077.8l24.5 24.5M2047.75 1102.3l24.5 -24.5"/>
<path d="M2063.75 1077.8l24.5 24.5M2063.75 1102.3l24.5 -24.5"/>
<path d="M2078.75 1077.8l24.5 24.5M2078.75 1102.3l24.5 -24.5"/>
<path d="M2094.75 1077.8l24.5 24.5M2094.75 1102.3l24.5 -24.5"/>
<path d="M2110.75 1077.8l24.5 24.5M2110.75 1102.3l24.5 -24.5"/>
<path d="M2126.75 1077.8l24.5 24.5M2126.75 1102.3l24.5 -24.5"/>
<path d="M2142.75 1077.8l24.5 24.5M2142.75 1102.3l24.5 -24.5"/>
<path d="M2158.75 1077.8l24.5 24.5M2158.75 1102.3l24.5 -24.5"/>
<path d="M2173.75 1077.8l24.5 24.5M2173.75 1102.3l24.5 -24.5"/>
<path d="M2189.75 1077.8l24.5 24.5M2189.75 1102.3l24.5 -24.5"/>
<path d="M2205.75 1077.8l24.5 24.5M2205.75 1102.3l24.5 -24.5"/>
<path d="M2221.75 1077.8l24.5 24.5M2221.75 1102.3l24.5 -24.5"/>
<path d="M2237.75 1077.8l24.5 24.5M2237.75 1102.3l24.5 -24.5"/>
<path d="M2253.75 1077.8l24.5 24.5M2253.75 1102.3l24.5 -24.5"/>
<path d="M2269.75 1077.8l24.5 24.5M2269.75 1102.3l24.5 -24.5"/>
<path d="M2284.75 1077.8l24.5 24.5M2284.75 1102.3l24.5 -24.5"/>
<path d="M2300.75 1077.8l24.5 24.5M2300.75 1102.3l24.5 -24.5"/>
<path d="M2316.75 1077.8l24.5 24.5M2316.75 1102.3l24.5 -24.5"/>
<path d="M2332.75 1077.8l24.5 24.5M2332.75 1102.3l24.5 -24.5"/>
<path d="M2348.75 1077.8l24.5 24.5M2348.75 1102.3l24.5 -24.5"/>
<path d="M2364.75 1077.8l24.5 24.5M2364.75 1102.3l24.5 -24.5"/>
<path d="M2379.75 1077.8l24.5 24.5M2379.75 1102.3l24.5 -24.5"/>
<path d="M2395.75 1077.8l24.5 24.5M2395.75 1102.3l24.5 -24.5"/>
<path d="M2411.75 1077.8l24.5 24.5M2411.75 1102.3l24.5 -24.5"/>
<path d="M2427.75 1077.8l24.5 24.5M2427.75 1102.3l24.5 -24.5"/>
<path d="M2443.75 1077.8l24.5 24.5M2443.75 1102.3l24.5 -24.5"/>
<path d="M2459.75 1077.8l24.5 24.5M2459.75 1102.3l24.5 -24.5"/>
<path d="M2474.75 1077.8l24.5 24.5M2474.75 1102.3l24.5 -24.5"/>
<path d="M2475.25 1077.8l24.5 24.5M2475.25 1102.3l24.5 -24.5"/>
<path d="M2474.25 1077.8l24.5 24.5M2474.25 1102.3l24.5 -24.5"/>
</g>
<rect x="2299.5" y="269.5" width="344" height="367" fill="#fff" stroke="#000" stroke-width="1.1"/>
<path class="d" d="M2412.1 303.9l11.2 11.15l-11.2 11.15l-11.2 -11.15z"/>
<path d="M2368.5 407.55H2456.5" stroke="#ff0000" stroke-width="7.2" stroke-linecap="round" fill="none"/>
<path class="g" d="M2412.1 488.2l10.9 21.6h-21.8z"/>
<path class="x" style="stroke-width:2.2" d="M2401.7 579.9l20.8 20.8M2401.7 600.7l20.8 -20.8"/>
<text class="l" transform="translate(2466 328.9) scale(1 1.035)">IAT-1</text>
<text class="l" transform="translate(2466 420.6) scale(1 1.035)">OAT-1</text>
<text class="l" transform="translate(2466 512.3) scale(1 1.035)">IAT-2</text>
<text class="l" transform="translate(2466 604.2) scale(1 1.035)">OAT-2</text>
<text class="t" transform="translate(0 177.9) scale(1 1.025)" id="title"><tspan x="766.85" style="letter-spacing:0.15px">Intake </tspan><tspan x="937.75">Air </tspan><tspan x="1031.4">T</tspan><tspan x="1061.3" style="letter-spacing:0.34px">emperature </tspan><tspan x="1375.9">- </tspan><tspan x="1405.85">ARM </tspan><tspan x="1546.85">+ </tspan><tspan x="1595.6" style="letter-spacing:0.1px">Stock </tspan><tspan x="1759.85">(IS38 </tspan><tspan x="1907.6" style="letter-spacing:-0.15px">Turbo)</tspan></text>
<text class="a" transform="translate(175.4 261) scale(1 1.03)" text-anchor="end">130</text>
<text class="a" transform="translate(175.4 397.14) scale(1 1.03)" text-anchor="end">120</text>
<text class="a" transform="translate(175.4 533.28) scale(1 1.03)" text-anchor="end">110</text>
<text class="a" transform="translate(175.4 669.42) scale(1 1.03)" text-anchor="end">100</text>
<text class="a" transform="translate(175.4 805.56) scale(1 1.03)" text-anchor="end">90</text>
<text class="a" transform="translate(175.4 941.7) scale(1 1.03)" text-anchor="end">80</text>
<text class="a" transform="translate(175.4 1077.84) scale(1 1.03)" text-anchor="end">70</text>
<text class="a" transform="translate(175.4 1213.98) scale(1 1.03)" text-anchor="end">60</text>
<text class="a" transform="translate(175.4 1350.12) scale(1 1.03)" text-anchor="end">50</text>
<text class="a" transform="translate(175.4 1486.26) scale(1 1.03)" text-anchor="end">40</text>
<text class="a" transform="translate(175.4 1622.4) scale(1 1.03)" text-anchor="end">30</text>
<text class="a" transform="translate(213.9 1676.5) scale(1 1.03)" text-anchor="middle">2000</text>
<text class="a" transform="translate(461.9 1676.5) scale(1 1.03)" text-anchor="middle">2500</text>
<text class="a" transform="translate(708.9 1676.5) scale(1 1.03)" text-anchor="middle">3000</text>
<text class="a" transform="translate(956.9 1676.5) scale(1 1.03)" text-anchor="middle">3500</text>
<text class="a" transform="translate(1203.9 1676.5) scale(1 1.03)" text-anchor="middle">4000</text>
<text class="a" transform="translate(1450.9 1676.5) scale(1 1.03)" text-anchor="middle">4500</text>
<text class="a" transform="translate(1698.9 1676.5) scale(1 1.03)" text-anchor="middle">5000</text>
<text class="a" transform="translate(1945.9 1676.5) scale(1 1.03)" text-anchor="middle">5500</text>
<text class="a" transform="translate(2193.9 1676.5) scale(1 1.03)" text-anchor="middle">6000</text>
<text class="a" transform="translate(2440.9 1676.5) scale(1 1.03)" text-anchor="middle">6500</text>
<text class="a" transform="translate(2688.9 1676.5) scale(1 1.03)" text-anchor="middle">7000</text>
<text class="a" transform="translate(1452.9 1742.8) scale(1 1.025)" text-anchor="middle" id="xt">Engine Speed (RPM)</text>
<text class="a" transform="translate(76 1133) rotate(-90) scale(1 1.025)" style="letter-spacing:0.4px" id="yt">Temperature (degF)</text>
</svg>
</body></html>
